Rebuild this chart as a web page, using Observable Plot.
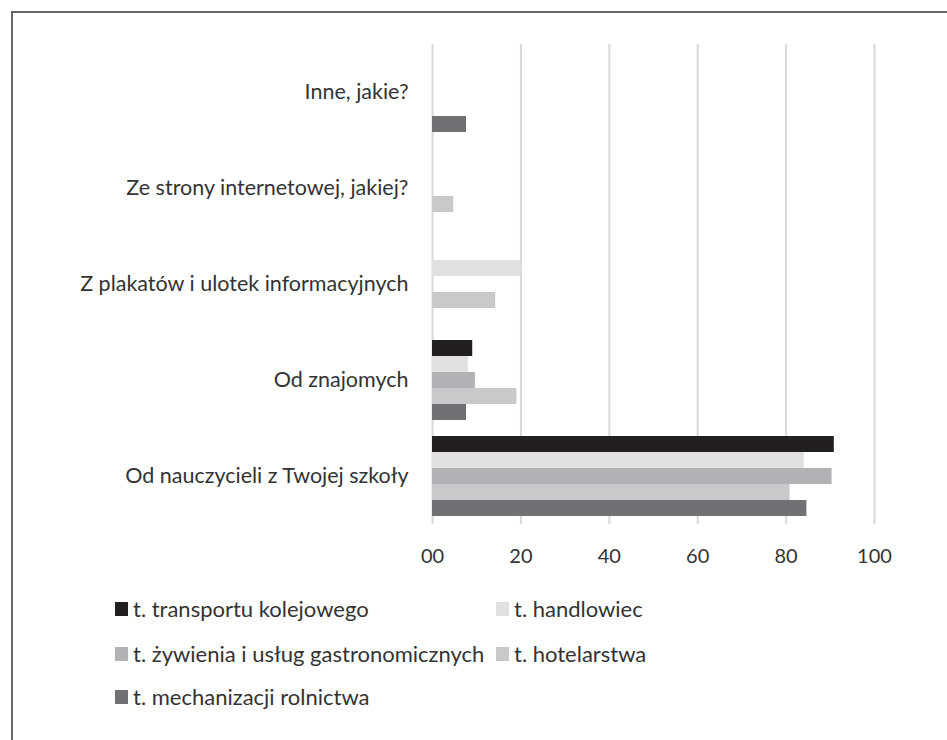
<!DOCTYPE html>
<html>
<head>
<meta charset="utf-8">
<script src="https://cdn.jsdelivr.net/npm/d3@7"></script>
<script src="https://cdn.jsdelivr.net/npm/@observablehq/plot@0.6"></script>
<style>
  html, body { margin: 0; padding: 0; background: #fff; overflow: hidden; }
  body { width: 947px; height: 740px; position: relative; font-family: Lato, "Open Sans", sans-serif; }
  #frame { position: absolute; left: 11px; top: 11px; width: 2000px; height: 2000px; border-top: 2px solid #666; border-left: 2px solid #666; box-sizing: border-box; }
  #chart { position: absolute; left: 0; top: 0; }
  .leg { position: absolute; font-size: 22px; color: #333; white-space: nowrap; display: flex; align-items: center; height: 20px; line-height: 20px; }
  .sw { width: 13px; height: 14px; margin-right: 5px; display: inline-block; }
</style>
</head>
<body>
<div id="frame"></div>
<div id="chart"></div>
<div id="legend"></div>
<script>
const categories = [
  "Inne, jakie?",
  "Ze strony internetowej, jakiej?",
  "Z plakatów i ulotek informacyjnych",
  "Od znajomych",
  "Od nauczycieli z Twojej szkoły"
];
const series = [
  "t. transportu kolejowego",
  "t. handlowiec",
  "t. żywienia i usług gastronomicznych",
  "t. hotelarstwa",
  "t. mechanizacji rolnictwa"
];
const colors = ["#231f20", "#e0e0de", "#b1b2b5", "#c8c9cb", "#707174"];
// values per series, in category order
const transportu   = [0, 0, 0, 9.1, 90.9];
const handlowiec   = [0, 0, 20.0, 8.1, 84.1];
const zywienia     = [0, 0, 0, 9.7, 90.4];
const hotelarstwa  = [0, 4.8, 14.3, 19.1, 80.9];
const mechanizacji = [7.7, 0, 0, 7.7, 84.7];
const xTicks = [0, 20, 40, 60, 80, 100];
const xTickLabels = ["00", "20", "40", "60", "80", "100"];

const seriesValues = [transportu, handlowiec, zywienia, hotelarstwa, mechanizacji];
const data = [];
series.forEach((s, i) => categories.forEach((c, j) => {
  data.push({cat: c, series: s, value: seriesValues[i][j]});
}));

const chart = Plot.plot({
  width: 947,
  height: 580,
  marginLeft: 432,
  marginRight: 73,
  marginTop: 44,
  marginBottom: 56,
  style: {fontFamily: "Lato, 'Open Sans', sans-serif", fontSize: "21px", color: "#333", background: "transparent", overflow: "visible"},
  x: {domain: [0, 100], label: null},
  fy: {domain: categories, padding: 0, label: null},
  y: {domain: series, paddingInner: 0, paddingOuter: 0.375, axis: null},
  color: {domain: series, range: colors},
  marks: [
    Plot.ruleX(xTicks, {stroke: "#d9d9d9", strokeWidth: 2}),
    Plot.barX(data, {x: "value", y: "series", fy: "cat", fill: "series"}),
    Plot.axisFy({anchor: "left", tickSize: 0, tickPadding: 24, label: null, fontSize: 21.5, fill: "#333"}),
    Plot.axisX({ticks: xTicks, tickFormat: (d) => xTickLabels[xTicks.indexOf(d)], tickSize: 0, tickPadding: 24, label: null, fontSize: 20, fill: "#333"})
  ]
});
document.getElementById("chart").appendChild(chart);

const legPos = [[115, 609], [496, 609], [115, 654], [496, 654], [115, 697]];
const legend = document.getElementById("legend");
series.forEach((s, i) => {
  const d = document.createElement("div");
  d.className = "leg";
  d.style.left = legPos[i][0] + "px";
  d.style.top = (legPos[i][1] - 10) + "px";
  d.innerHTML = `<span class="sw" style="background:${colors[i]}"></span><span>${s}</span>`;
  legend.appendChild(d);
});
</script>
</body>
</html>
